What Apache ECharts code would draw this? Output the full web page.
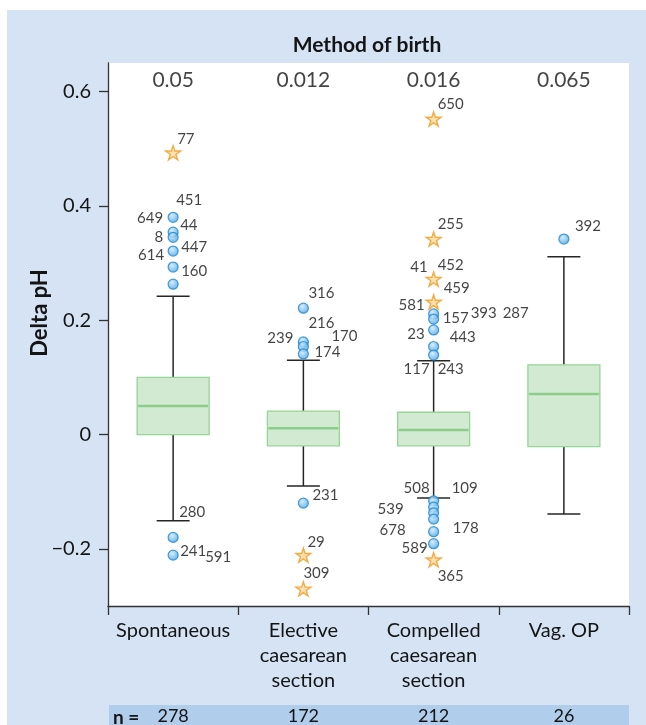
<!DOCTYPE html>
<html>
<head>
<meta charset="utf-8">
<script src="https://cdn.jsdelivr.net/npm/echarts@6/dist/echarts.min.js"></script>
<style>html,body{margin:0;padding:0;background:#fff}#c{width:646px;height:725px}</style>
</head>
<body>
<div id="c"></div>
<script>
// ---------- DATA ----------
const categories = ['Spontaneous', 'Elective\ncaesarean\nsection', 'Compelled\ncaesarean\nsection', 'Vag. OP'];
const means = ['0.05', '0.012', '0.016', '0.065'];
const nValues = ['278', '172', '212', '26'];
const yTicks = [-0.2, 0, 0.2, 0.4, 0.6];
// [category index, lower whisker, Q1, median, Q3, upper whisker]
const boxStats = [
  [0, -0.151, 0.000, 0.050, 0.100, 0.242],
  [1, -0.090, -0.020, 0.011, 0.041, 0.130],
  [2, -0.111, -0.020, 0.008, 0.039, 0.129],
  [3, -0.139, -0.021, 0.071, 0.122, 0.311]
];
// outliers (circles) [category index, value]
const outliers = [
  [0, 0.380], [0, 0.354], [0, 0.345], [0, 0.321], [0, 0.293], [0, 0.263], [0, -0.180], [0, -0.211],
  [1, 0.221], [1, 0.162], [1, 0.154], [1, 0.141], [1, -0.120],
  [2, 0.211], [2, 0.202], [2, 0.183], [2, 0.154], [2, 0.139],
  [2, -0.116], [2, -0.127], [2, -0.137], [2, -0.148], [2, -0.170], [2, -0.191],
  [3, 0.342]
];
// extreme values (stars) [category index, value]
const extremes = [
  [0, 0.493],
  [1, -0.211], [1, -0.270],
  [2, 0.552], [2, 0.342], [2, 0.272], [2, 0.232], [2, -0.219]
];
// case labels [category index, value, case number]
const caseLabels = [
  [0, 0.493, '77'], [0, 0.380, '451'], [0, 0.380, '649'], [0, 0.354, '44'], [0, 0.345, '8'],
  [0, 0.321, '447'], [0, 0.321, '614'], [0, 0.293, '160'], [0, -0.151, '280'],
  [0, -0.211, '241'], [0, -0.211, '591'],
  [1, 0.221, '316'], [1, 0.162, '216'], [1, 0.162, '170'], [1, 0.154, '239'], [1, 0.141, '174'],
  [1, -0.120, '231'], [1, -0.211, '29'], [1, -0.270, '309'],
  [2, 0.552, '650'], [2, 0.342, '255'], [2, 0.272, '452'], [2, 0.272, '41'], [2, 0.232, '459'],
  [2, 0.232, '581'], [2, 0.211, '157'], [2, 0.211, '393'], [2, 0.211, '287'], [2, 0.183, '23'],
  [2, 0.183, '443'], [2, 0.139, '117'], [2, 0.139, '243'],
  [2, -0.116, '508'], [2, -0.116, '109'], [2, -0.127, '539'], [2, -0.170, '678'], [2, -0.170, '178'],
  [2, -0.191, '589'], [2, -0.219, '365'],
  [3, 0.342, '392']
];

// ---------- LAYOUT / STYLE ----------
// label placement: [align, dx, dy] relative to marker centre
const labelPlacement = {
  '77': ['left', 4, -14], '451': ['left', 3, -17], '649': ['right', -10, 1], '44': ['left', 7, -7],
  '8': ['right', -10, 0], '447': ['left', 8, -4], '614': ['right', -9, 4], '160': ['left', 8, 4],
  '280': ['left', 6, -9], '241': ['left', 7, -4], '591': ['left', 32, 2],
  '316': ['left', 5, -15], '216': ['left', 5, -19], '170': ['left', 28, -6], '239': ['right', -10, -8],
  '174': ['left', 11, -2], '231': ['left', 9, -8], '29': ['left', 4, -13], '309': ['left', 0, -16],
  '650': ['left', 4, -15], '255': ['left', 4, -15], '452': ['left', 4, -14], '41': ['right', -6, -12],
  '459': ['left', 10, -14], '581': ['right', -9, 3], '157': ['left', 9, 4], '393': ['left', 37, -1],
  '287': ['left', 69, -1], '23': ['right', -9, 4], '443': ['left', 16, 7], '117': ['right', -4, 14],
  '243': ['left', 4, 14], '508': ['right', -4, -13], '109': ['left', 18, -13], '539': ['right', -30, 2],
  '678': ['right', -28, -2], '178': ['left', 19, -4], '589': ['right', -6, 4], '365': ['left', 4, 16],
  '392': ['left', 11, -13]
};
const FONT = "Lato, 'Open Sans', 'DejaVu Sans', sans-serif";
const TXT = '#141414';
const starPath = 'path://M50,0 L61.2,34.5 L97.6,34.5 L68.2,55.9 L79.4,90.5 L50,69.1 L20.6,90.5 L31.8,55.9 L2.4,34.5 L38.8,34.5 Z';

const chart = echarts.init(document.getElementById('c'), null, {renderer: 'canvas'});

const option = {
  animation: false,
  backgroundColor: '#fff',
  title: {
    text: 'Method of birth', left: 362, top: 30, textAlign: 'center',
    textStyle: {fontFamily: FONT, fontSize: 21, fontWeight: 'bold', color: TXT}
  },
  graphic: [
    {type: 'rect', z: -10, shape: {x: 7, y: 10, width: 639, height: 715}, style: {fill: '#d5e3f4'}},
    {type: 'rect', z: -9, shape: {x: 109, y: 705, width: 520, height: 20}, style: {fill: '#b0cdec'}},
    {type: 'text', z: 5, x: 113, y: 718, style: {text: 'n =', fontFamily: FONT, fontSize: 19, fontWeight: 'bold', fill: TXT, verticalAlign: 'middle'}},
    {type: 'text', z: 5, x: 40, y: 313, rotation: Math.PI / 2,
     style: {text: 'Delta pH', fontFamily: FONT, fontSize: 22, fontWeight: 'bold', fill: TXT, align: 'center', verticalAlign: 'middle'}}
  ],
  grid: {left: 108, right: 17, top: 63, bottom: 119, show: true, backgroundColor: '#fff', borderWidth: 0},
  xAxis: [
    {
      type: 'category', data: categories, boundaryGap: true,
      axisLine: {onZero: false, lineStyle: {color: '#333', width: 1.3}},
      axisTick: {show: true, length: 9, lineStyle: {color: '#333', width: 1.3}},
      axisLabel: {fontFamily: FONT, fontSize: 20, color: TXT, lineHeight: 25, margin: 12, interval: 0},
      splitLine: {show: false}
    },
    {
      type: 'category', data: nValues, position: 'bottom', offset: 94, gridIndex: 0,
      axisLine: {show: false, onZero: false}, axisTick: {show: false},
      axisLabel: {fontFamily: FONT, fontSize: 18, color: TXT, margin: 7, interval: 0}
    }
  ],
  yAxis: {
    type: 'value', min: -0.3, max: 0.65,
    axisLine: {show: true, lineStyle: {color: '#333', width: 1.3}},
    axisTick: {show: true, length: 9, customValues: yTicks, lineStyle: {color: '#333', width: 1.3}},
    axisLabel: {
      customValues: yTicks, fontFamily: FONT, fontSize: 20, color: TXT, margin: 17,
      formatter: v => (v === 0 ? '0' : String(Math.round(v * 10) / 10).replace('-', '\u2212'))
    },
    splitLine: {show: false}
  },
  series: [
    {
      type: 'custom', name: 'box', data: boxStats, z: 2,
      encode: {x: 0, y: [1, 2, 3, 4, 5]},
      renderItem: function (params, api) {
        const c = api.value(0);
        const p = [1, 2, 3, 4, 5].map(i => api.coord([c, api.value(i)]));
        const cx = p[0][0];
        const bw = 72, cw = 33;
        const lineStyle = {stroke: '#262626', lineWidth: 1.5};
        return {
          type: 'group',
          children: [
            {type: 'line', shape: {x1: cx, y1: p[0][1], x2: cx, y2: p[1][1]}, style: lineStyle},
            {type: 'line', shape: {x1: cx, y1: p[3][1], x2: cx, y2: p[4][1]}, style: lineStyle},
            {type: 'line', shape: {x1: cx - cw / 2, y1: p[0][1], x2: cx + cw / 2, y2: p[0][1]}, style: lineStyle},
            {type: 'line', shape: {x1: cx - cw / 2, y1: p[4][1], x2: cx + cw / 2, y2: p[4][1]}, style: lineStyle},
            {type: 'rect', shape: {x: cx - bw / 2, y: p[3][1], width: bw, height: p[1][1] - p[3][1]},
             style: {fill: '#d3ead2', stroke: '#95d595', lineWidth: 1.3}},
            {type: 'line', shape: {x1: cx - bw / 2 + 1, y1: p[2][1], x2: cx + bw / 2 - 1, y2: p[2][1]},
             style: {stroke: '#8acd8a', lineWidth: 2.5}}
          ]
        };
      }
    },
    {
      type: 'scatter', name: 'outliers', data: outliers, symbol: 'circle', symbolSize: 10, z: 4,
      itemStyle: {
        color: new echarts.graphic.RadialGradient(0.4, 0.35, 0.7, [
          {offset: 0, color: '#cde8fb'}, {offset: 1, color: '#3a9de2'}
        ]),
        borderColor: '#1c86cf', borderWidth: 1.2
      }
    },
    {
      type: 'scatter', name: 'extremes', data: extremes, symbol: starPath, symbolKeepAspect: true,
      symbolSize: 15, z: 4,
      itemStyle: {color: '#fdd9a0', borderColor: '#f39a1e', borderWidth: 1.4}
    },
    {
      type: 'scatter', name: 'caseLabels', z: 6, symbolSize: 1, silent: true,
      itemStyle: {color: 'rgba(0,0,0,0)'},
      data: caseLabels.map(d => {
        const pl = labelPlacement[d[2]] || ['left', 4, -12];
        return {
          value: [d[0], d[1]],
          label: {
            show: true, position: 'inside', formatter: d[2], align: pl[0], verticalAlign: 'middle',
            offset: [pl[1], pl[2]], fontFamily: FONT, fontSize: 15, color: TXT
          }
        };
      })
    },
    {
      type: 'scatter', name: 'means', z: 6, symbolSize: 1, silent: true,
      itemStyle: {color: 'rgba(0,0,0,0)'},
      data: means.map((m, i) => ({
        value: [i, 0.62],
        label: {show: true, position: 'inside', formatter: m, fontFamily: FONT, fontSize: 21, color: TXT}
      }))
    }
  ]
};
chart.setOption(option);
</script>
</body>
</html>
